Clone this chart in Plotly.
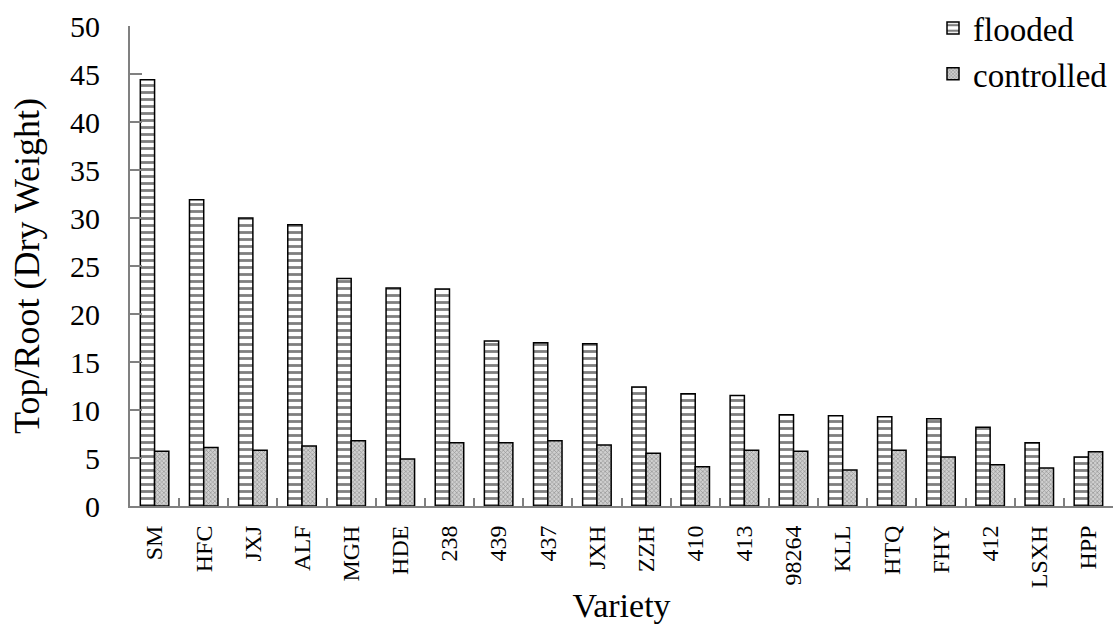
import plotly.graph_objects as go

varieties = ["SM", "HFC", "JXJ", "ALF", "MGH", "HDE", "238", "439", "437", "JXH",
             "ZZH", "410", "413", "98264", "KLL", "HTQ", "FHY", "412", "LSXH", "HPP"]
flooded = [44.4, 31.9, 30.0, 29.3, 23.7, 22.7, 22.6, 17.2, 17.0, 16.9,
           12.4, 11.7, 11.5, 9.5, 9.4, 9.3, 9.1, 8.2, 6.6, 5.1]
controlled = [5.7, 6.1, 5.8, 6.25, 6.8, 4.9, 6.6, 6.6, 6.8, 6.35,
              5.5, 4.1, 5.8, 5.7, 3.75, 5.8, 5.1, 4.3, 3.95, 5.65]

FONT = "Liberation Serif, Times New Roman, serif"

fig = go.Figure()
fig.add_trace(go.Bar(
    x=varieties, y=flooded, name="flooded",
    marker=dict(color="white",
                line=dict(color="black", width=1.5),
                pattern=dict(shape="-", fgcolor="black", bgcolor="white",
                             size=7, solidity=0.4, fillmode="overlay")),
))
fig.add_trace(go.Bar(
    x=varieties, y=controlled, name="controlled",
    marker=dict(color="#c8c8c8",
                line=dict(color="black", width=1.5),
                pattern=dict(shape="x", fgcolor="#555555", bgcolor="#d0d0d0",
                             size=3, solidity=0.4, fillmode="overlay")),
))

fig.update_layout(
    width=1117, height=632,
    margin=dict(l=130, r=4, t=26, b=126, autoexpand=False),
    paper_bgcolor="white", plot_bgcolor="white",
    barmode="group", bargap=0.42, bargroupgap=0,
    font=dict(family=FONT, color="black"),
    showlegend=True,
    legend=dict(x=1, xanchor="right", xref="paper",
                y=1, yanchor="top", yref="container",
                font=dict(size=33, family=FONT),
                bgcolor="rgba(0,0,0,0)", itemwidth=30,
                tracegroupgap=6, traceorder="normal"),
    xaxis=dict(
        showline=True, linecolor="#808080", linewidth=2,
        ticks="inside", tickson="boundaries", ticklen=8, tickcolor="#808080", tickwidth=1.5,
        tickangle=-90, tickfont=dict(size=24, family=FONT),
        ticklabelstandoff=8,
        title=dict(text="Variety", font=dict(size=34, family=FONT), standoff=6),
        showgrid=False,
    ),
    yaxis=dict(
        range=[0, 50], dtick=5, tick0=0,
        showline=True, linecolor="#808080", linewidth=2,
        ticks="inside", ticklen=12, tickcolor="#808080", tickwidth=1.5,
        tickfont=dict(size=30, family=FONT),
        ticklabelstandoff=22,
        title=dict(text="Top/Root (Dry Weight)", font=dict(size=36, family=FONT), standoff=19),
        showgrid=False, zeroline=False,
    ),
)

fig.write_html("out.html",
               config={"displayModeBar": False},
               post_script="document.body.style.margin='0px';document.body.style.overflow='hidden';")
